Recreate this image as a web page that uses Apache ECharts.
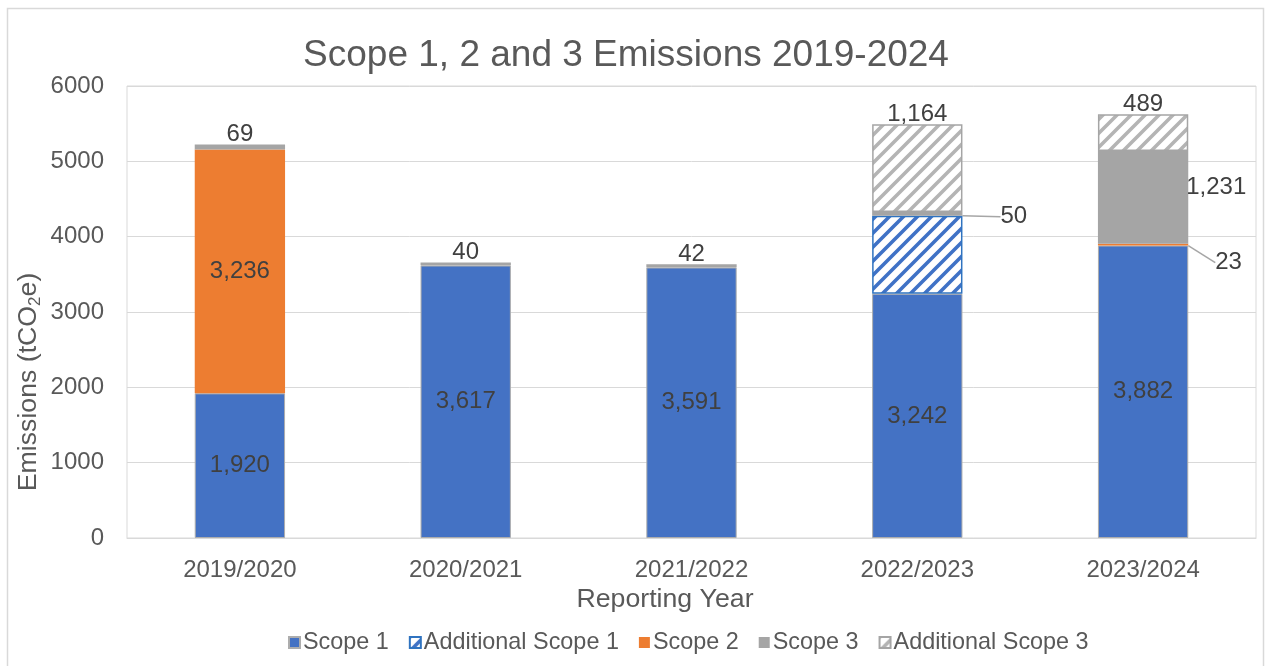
<!DOCTYPE html>
<html>
<head>
<meta charset="utf-8">
<title>Scope 1, 2 and 3 Emissions 2019-2024</title>
<script src="https://cdn.jsdelivr.net/npm/echarts@6/dist/echarts.min.js"></script>
<style>
  html, body { margin: 0; padding: 0; background: #ffffff; }
  #chart { width: 1265px; height: 666px; }
</style>
</head>
<body>
<div id="chart"></div>
<script>
// Reporting years and emissions per scope (tCO2e)
const categories = ['2019/2020', '2020/2021', '2021/2022', '2022/2023', '2023/2024'];
const scope1 = [1920, 3617, 3591, 3242, 3882];
const additionalScope1 = [null, null, null, 1036, null];
const scope2 = [3236, null, null, null, 23];
const scope3 = [69, 40, 42, 50, 1231];
const additionalScope3 = [null, null, null, 1164, 489];
const yTicks = { min: 0, max: 6000, interval: 1000 };

const FONT = "'Liberation Sans', Arial, sans-serif";
const TEXT = '#595959';
const LABEL = '#404040';
const GRID = '#D9D9D9';

// Diagonal hatch tile used for the "Additional" series
function hatch(stripe) {
  const size = 14;
  const c = document.createElement('canvas');
  c.width = size; c.height = size;
  const ctx = c.getContext('2d');
  ctx.fillStyle = '#ffffff';
  ctx.fillRect(0, 0, size, size);
  ctx.strokeStyle = stripe;
  ctx.lineWidth = 3.6;
  ctx.lineCap = 'square';
  ctx.beginPath();
  ctx.moveTo(-2, size + 2); ctx.lineTo(size + 2, -2);
  ctx.moveTo(-2, 2); ctx.lineTo(2, -2);
  ctx.moveTo(size - 2, size + 2); ctx.lineTo(size + 2, size - 2);
  ctx.stroke();
  return { image: c, repeat: 'repeat' };
}

const fmt = v => Number(v).toLocaleString('en-US');

const baseLabel = {
  show: true,
  color: LABEL,
  fontFamily: FONT,
  fontSize: 24,
  formatter: p => fmt(p.value)
};

const leader = { show: true, lineStyle: { color: '#A6A6A6', width: 1.5 } };

// Per-item label tweaks: position and offset from the default spot
function items(values, tweaks) {
  return values.map((v, i) => {
    if (v === null) return '-';
    const t = tweaks && tweaks[i];
    if (!t) return v;
    const item = { value: v, label: { position: t.position || undefined } };
    if (t.line) item.labelLine = leader;
    return item;
  });
}

function layoutFrom(tweaks) {
  return params => {
    const t = tweaks[params.dataIndex];
    if (!t || (!t.dx && !t.dy)) return {};
    return { dx: t.dx || 0, dy: t.dy || 0 };
  };
}

const scope3Tweaks = {
  3: { position: 'right', dx: 40, dy: 3, line: true },
  4: { position: 'right', dy: -10 }
};
const scope2Tweaks = {
  4: { position: 'right', dx: 22, dy: 18, line: true }
};

const chart = echarts.init(document.getElementById('chart'), null, { renderer: 'canvas' });

chart.setOption({
  animation: false,
  backgroundColor: '#ffffff',
  textStyle: { fontFamily: FONT },
  title: {
    text: 'Scope 1, 2 and 3 Emissions 2019-2024',
    left: 626,
    top: 37,
    textAlign: 'center',
    padding: 0,
    textStyle: { color: TEXT, fontSize: 37, fontWeight: 'normal', fontFamily: FONT }
  },
  grid: {
    left: 127, right: 9, top: 86, bottom: 128,
    show: true, borderColor: GRID, borderWidth: 1,
    containLabel: false
  },
  legend: {
    left: 283,
    top: 626,
    itemWidth: 11,
    itemHeight: 11,
    itemGap: 20,
    icon: 'rect',
    textStyle: { color: TEXT, fontSize: 23.4, fontFamily: FONT, padding: [0, 0, 0, -2] },
    data: ['Scope 1', 'Additional Scope 1', 'Scope 2', 'Scope 3', 'Additional Scope 3']
  },
  xAxis: {
    type: 'category',
    data: categories,
    axisLine: { show: true, lineStyle: { color: GRID, width: 1 } },
    axisTick: { show: false },
    axisLabel: { color: TEXT, fontSize: 24, fontFamily: FONT, margin: 20 }
  },
  yAxis: {
    type: 'value',
    min: yTicks.min,
    max: yTicks.max,
    interval: yTicks.interval,
    axisLine: { show: false },
    axisTick: { show: false },
    splitLine: { lineStyle: { color: GRID, width: 1 } },
    axisLabel: { color: TEXT, fontSize: 24, fontFamily: FONT, margin: 23, formatter: v => String(v) }
  },
  graphic: [
    {
      type: 'rect',
      silent: true,
      shape: { x: 7.5, y: 8.5, width: 1256, height: 720 },
      style: { fill: 'none', stroke: GRID, lineWidth: 1.5 }
    },
    {
      type: 'text',
      x: 29, y: 382,
      rotation: Math.PI / 2,
      style: {
        text: '{m|Emissions (tCO}{s|2}{m|e)}',
        align: 'center',
        verticalAlign: 'middle',
        fill: TEXT,
        rich: {
          m: { fontSize: 26.7, fontFamily: FONT, fill: TEXT, lineHeight: 30 },
          s: { fontSize: 17, fontFamily: FONT, fill: TEXT, lineHeight: 30, verticalAlign: 'bottom', padding: [12, 0, 0, 0] }
        }
      }
    },
    {
      type: 'text',
      x: 665, y: 600,
      style: {
        text: 'Reporting Year',
        align: 'center',
        verticalAlign: 'middle',
        fill: TEXT,
        fontSize: 26.7,
        fontFamily: FONT
      }
    }
  ],
  series: [
    {
      name: 'Scope 1',
      type: 'bar',
      stack: 'total',
      barWidth: '40%',
      data: items(scope1),
      itemStyle: { color: '#4472C4', borderColor: '#ADADAD', borderWidth: 1 },
      label: Object.assign({}, baseLabel, { position: 'inside' })
    },
    {
      name: 'Additional Scope 1',
      type: 'bar',
      stack: 'total',
      data: items(additionalScope1),
      itemStyle: { color: hatch('#3F72C6'), borderColor: '#2F73C0', borderWidth: 1.5 },
      label: { show: false }
    },
    {
      name: 'Scope 2',
      type: 'bar',
      stack: 'total',
      data: items(scope2, scope2Tweaks),
      itemStyle: { color: '#ED7D31' },
      label: Object.assign({}, baseLabel, { position: 'inside' }),
      labelLayout: layoutFrom(scope2Tweaks)
    },
    {
      name: 'Scope 3',
      type: 'bar',
      stack: 'total',
      data: items(scope3, scope3Tweaks),
      itemStyle: { color: '#A5A5A5' },
      label: Object.assign({}, baseLabel, { position: 'top', distance: -2 }),
      labelLayout: layoutFrom(scope3Tweaks)
    },
    {
      name: 'Additional Scope 3',
      type: 'bar',
      stack: 'total',
      data: items(additionalScope3),
      itemStyle: { color: hatch('#B4B4B4'), borderColor: '#A5A5A5', borderWidth: 1.5 },
      label: Object.assign({}, baseLabel, { position: 'top', distance: -2 })
    }
  ]
});
</script>
</body>
</html>
